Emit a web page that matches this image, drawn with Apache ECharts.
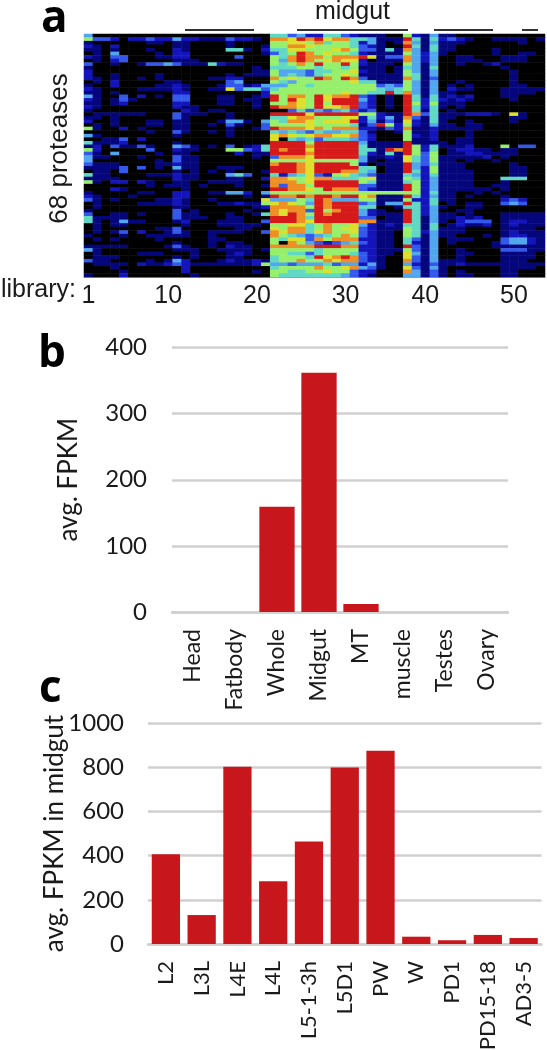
<!DOCTYPE html>
<html>
<head>
<meta charset="utf-8">
<style>html,body{margin:0;padding:0;background:#fff}#c{width:547px;height:1050px;filter:blur(0.45px)}</style>
<script src="https://cdn.jsdelivr.net/npm/echarts@6/dist/echarts.min.js"></script>
</head>
<body>
<div id="c"></div>
<script>
// Panel a: expression level 0-9, one string per protease, one digit per library
var heatLib1to21 = [
"400000000000000000000","633202232242211132210","100000011011000010000","210200000011000010001",
"110100010021000055102","010400001022000000001","210330001122000003000","010230000011100000000",
"300100133431115211000","100000000000000000010","200000000000000000011","200100001000000010111",
"210100101000001122000","010200000110000034000","100200001121000133124","210000111121001173553",
"110100000022000000002","410030201033000110012","210131000033000110110","110120000022000110010",
"210000000021100000010","100000000002101100000","011111100031110010000","110100000031000010000",
"200100011011000144104","010100011011001031003","610020100011000010013","000000010031001010000",
"410000000010000010000","001130200000000000000","511120000010000000000","120311310043101030125",
"620000030021100066325","310400001011000002011","411000100031100000010","400000001031100000000",
"311100001121100000000","111130301041100111000","011030000010101010001","511000011121100045300",
"111100000021100011002","610220210011001111000","000000010111010001001","000210000001000000000",
"100000110022001144204","210001000022000000101","310100001121001000007","010000111121000112116",
"010000000011000000012","100000000030100000100","300110100031100010015","511110000031110011000",
"510141100012000111003","010110000001000111110","010000001130000001100","010130200131001111003",
"100010011111001000000","010100001000001100000","000000000010001011000","111110000131001021100",
"410000000011100111101","010000111000100012100","011100000010100011000","311000010142000121121",
"011110211232111111126","000100000002000000000","000010000002000000010","100020000000100000000"
];
var heatLib22to42 = [
"553422553211100621411","887989788554111951523","667768566524101841411","668876666532100951511",
"557766678633151841511","356986766521111642410","658988688897133842400","648986787720111842400",
"656869669621110641400","555665665611101541500","644435566721101641400","645435667611111651400",
"867669869831111851300","654666666755111641400","446656666666343641401","566666666666545641402",
"666666667665595841411","968869788932010951512","969769799942010952521","668769699932010962611",
"988769778932010952510","003534345323000951501","999979999966211983511","557886667725241831511",
"658876777924131721510","666676666513962621411","988878688822132811211","545435445531001611200",
"787678877832000621200","705453555432000611200","999969999941111911110","999989999951111962511",
"989979999955198962501","999989999952151963601","388879999941121753611","666676666641011753611",
"899879999620111943511","999879999955011942611","999879998854011952611","524573267543111542511",
"887678855567111652411","888679999965111562411","838869999933111962411","998876988832111962411",
"666666666666666662511","988989989978111952411","444659844466111622511","787649899934144952501",
"888869899955001552410","878839689942100952400","879869899942111952411","999859999933011951411",
"999879999988111951410","667756866742121551501","768856867732111651511","878857866732110652411",
"865434568632110651411","657738688822110531401","608643234532110521401","888889998822110931400",
"666665666622111631400","665535666532110741400","566659789832100731400","566866878832100831411",
"443444534424100421311","566668667843100731410","665566766322000841310","655555554321000441310"
];
var heatLib43to52 = [
"0000000000","2100111101","1000000100","0000000000","0000100000","0000100110","1100011100","1110011100",
"1001200000","0000010000","0000001000","0000001000","0000001000","1000001000","0100001100","1100011111",
"0000011110","1200011000","2100001000","1000000000","1000000000","0000000000","1222107100","0000001100",
"0100001000","0110000000","1110000000","0100000000","0100000000","1100000000","1100000000","1200060330",
"2211011000","1221111000","1112010000","0100100000","1000001000","1000001100","1100001100","1100001100",
"1100055500","1100010000","1100110000","1111010000","0010100000","0100010000","0000023200","0110034300",
"0110000000","1100000000","0100011111","2120011111","2333012211","2112012111","1000011110","1000012111",
"0001012211","1100034421","0000134421","0000111111","1000033311","1100011110","1000011110","1000011100",
"2111111111","0000011110","1000011000","1100011000"
];
var libraryTickSlots = [1, 10, 20, 30, 39, 49];
var libraryTickLabels = ["1", "10", "20", "30", "40", "50"];
var levelColors = ["#000000","#05057c","#1414bc","#3458ec","#52a6ee","#60d8c4","#96f06c","#dce02c","#ee8e24","#d61a1a"];

// Panel b
var tissues = ["Head", "Fatbody", "Whole", "Midgut", "MT", "muscle", "Testes", "Ovary"];
var tissueFpkm = [0, 0, 159, 362, 12, 0, 0, 0];

// Panel c
var stages = ["L2", "L3L", "L4E", "L4L", "L5-1-3h", "L5D1", "PW", "W", "PD1", "PD15-18", "AD3-5"];
var stageFpkm = [406, 131, 802, 284, 464, 799, 875, 33, 17, 41, 27];

var rows = heatLib1to21.map(function (s, i) { return s + heatLib22to42[i] + heatLib43to52[i]; });
var heatData = [];
rows.forEach(function (row, y) {
  for (var x = 0; x < 52; x++) heatData.push([x, y, Number(row.charAt(x) || 0)]);
});
var libraries = []; for (var l = 1; l <= 52; l++) libraries.push(String(l));
var proteases = rows.map(function (_, i) { return String(i + 1); });

var ARIAL = '"Liberation Sans", Arial, sans-serif';
var CAL = 'Lato, "Open Sans", sans-serif';
var BAR = "#c8171c", GRID = "#d0d0d0", INK = "#1a1a1a";

function valueAxis(gridIndex, max, interval, name, nameGap, margin) {
  return {
    type: "value", gridIndex: gridIndex, min: 0, max: max, interval: interval,
    name: name, nameLocation: "middle", nameRotate: 90, nameGap: nameGap, nameMoveOverlap: false,
    nameTextStyle: { fontFamily: CAL, fontSize: 26, color: INK },
    axisLine: { show: false }, axisTick: { show: false },
    axisLabel: { fontFamily: CAL, fontSize: 24, color: INK, margin: margin, formatter: function (v) { return String(v); } },
    splitLine: { lineStyle: { color: GRID, width: 2.5 } }
  };
}
function catAxis(gridIndex, data, size) {
  return {
    type: "category", gridIndex: gridIndex, data: data,
    axisLine: { lineStyle: { color: GRID, width: 2.5 } }, axisTick: { show: false },
    axisLabel: { rotate: 90, interval: 0, fontFamily: CAL, fontSize: size, color: INK, margin: 17 }
  };
}
function bracket(x1, x2) {
  return { type: "line", shape: { x1: x1, y1: 30, x2: x2, y2: 30 }, style: { stroke: "#333", lineWidth: 2 } };
}
function letter(t, x, y) {
  return { type: "text", x: x, y: y, style: { text: t, font: 'bold 44px "Open Sans", Lato, sans-serif', fill: "#000" } };
}

var chart = echarts.init(document.getElementById("c"), null, { renderer: "canvas" });
chart.setOption({
  animation: false,
  backgroundColor: "#fff",
  grid: [
    { left: 84, top: 34, width: 461, height: 243, outerBoundsMode: "none" },
    { left: 172, top: 347.5, width: 336, height: 264.5, outerBoundsMode: "none" },
    { left: 148, top: 723, width: 393.5, height: 221, outerBoundsMode: "none" }
  ],
  xAxis: [
    {
      type: "category", gridIndex: 0, data: libraries,
      axisLine: { lineStyle: { color: "#999", width: 1 } }, axisTick: { show: false },
      splitLine: { show: false },
      axisLabel: {
        fontFamily: ARIAL, fontSize: 25, color: INK, margin: 7,
        interval: function (i) { return libraryTickSlots.indexOf(i + 1) >= 0; },
        formatter: function (v) { return libraryTickLabels[libraryTickSlots.indexOf(Number(v))]; }
      }
    },
    catAxis(1, tissues, 23),
    catAxis(2, stages, 22)
  ],
  yAxis: [
    {
      type: "category", gridIndex: 0, data: proteases, inverse: true,
      name: "68 proteases", nameLocation: "middle", nameRotate: 90, nameGap: 11, nameMoveOverlap: false,
      nameTextStyle: { fontFamily: ARIAL, fontSize: 26, color: INK, padding: [0, 0, 0, 14] },
      axisLine: { show: false }, axisTick: { show: false }, axisLabel: { show: false }, splitLine: { show: false }
    },
    valueAxis(1, 400, 100, "avg. FPKM", 90, 25),
    valueAxis(2, 1000, 200, "avg. FPKM in midgut", 80, 24)
  ],
  visualMap: { show: false, type: "continuous", seriesIndex: 0, dimension: 2, min: 0, max: 9, inRange: { color: levelColors } },
  series: [
    { type: "heatmap", xAxisIndex: 0, yAxisIndex: 0, data: heatData, progressive: 0, itemStyle: { borderWidth: 0 }, emphasis: { disabled: true } },
    { type: "bar", xAxisIndex: 1, yAxisIndex: 1, data: tissueFpkm, barWidth: "84%", itemStyle: { color: BAR } },
    { type: "bar", xAxisIndex: 2, yAxisIndex: 2, data: stageFpkm, barWidth: "79%", itemStyle: { color: BAR } }
  ],
  graphic: [
    letter("a", 41, -3),
    letter("b", 38, 332),
    letter("c", 39, 667),
    { type: "text", x: 1, y: 278, style: { text: "library:", font: '25px "Liberation Sans", Arial, sans-serif', fill: INK } },
    { type: "text", x: 315, y: 0, style: { text: "midgut", font: '25px "Liberation Sans", Arial, sans-serif', fill: INK } },
    bracket(185, 254), bracket(297, 408), bracket(434, 493), bracket(522, 538)
  ]
});
</script>
</body>
</html>
